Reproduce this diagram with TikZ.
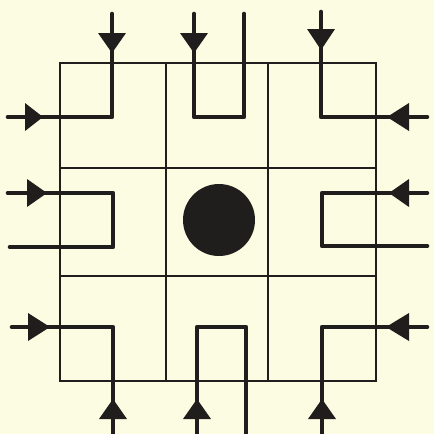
\documentclass[tikz,border=0pt]{standalone}
\usetikzlibrary{arrows.meta}
\definecolor{paper}{RGB}{252,252,226}
\definecolor{ink}{RGB}{32,30,28}
\tikzset{
  gridline/.style={draw=ink,line width=2.4pt},
  wire/.style={draw=ink,line width=4.6pt,line cap=round,line join=round},
  tri/.style={fill=ink}
}
\newcommand{\tridown}[3]{\fill[tri] (#1,#2) -- (#1-14,#3) -- (#1+14,#3) -- cycle;}
\newcommand{\trihor}[3]{\fill[tri] (#2,#1) -- (#3,#1-14) -- (#3,#1+14) -- cycle;}
\begin{document}
\begin{tikzpicture}[x=1pt,y=-1pt]
\fill[paper] (0,0) rectangle (434,434);
\useasboundingbox (0,0) rectangle (434,434);
% grid
\draw[gridline] (60,63) rectangle (376,381);
\draw[gridline] (166,63) -- (166,381);
\draw[gridline] (268,63) -- (268,381);
\draw[gridline] (60,168) -- (376,168);
\draw[gridline] (60,276) -- (376,276);
% centre disc
\fill[ink] (219,220) circle (36);
% wires
\draw[wire] (8,117) -- (112,117) -- (112,14);
\draw[wire] (194,14) -- (194,117) -- (244,117) -- (244,14);
\draw[wire] (321,12) -- (321,117) -- (427,117);
\draw[wire] (8,193) -- (113,193) -- (113,247) -- (10,247);
\draw[wire] (427,193) -- (322,193) -- (322,246) -- (427,246);
\draw[wire] (12,327) -- (113,327) -- (113,436);
\draw[wire] (197,436) -- (197,327) -- (246,327) -- (246,436);
\draw[wire] (322,436) -- (322,327) -- (427,327);
% arrowheads
\tridown{112}{53}{33}
\tridown{194}{53}{33}
\tridown{321}{50}{29}
\tridown{113}{399}{419}
\tridown{197}{399}{419}
\tridown{322}{399}{419}
\trihor{117}{43}{25}
\trihor{117}{387}{409}
\trihor{193}{47}{27}
\trihor{193}{389}{409}
\trihor{327}{50}{28}
\trihor{327}{386}{409}
\end{tikzpicture}
\end{document}
